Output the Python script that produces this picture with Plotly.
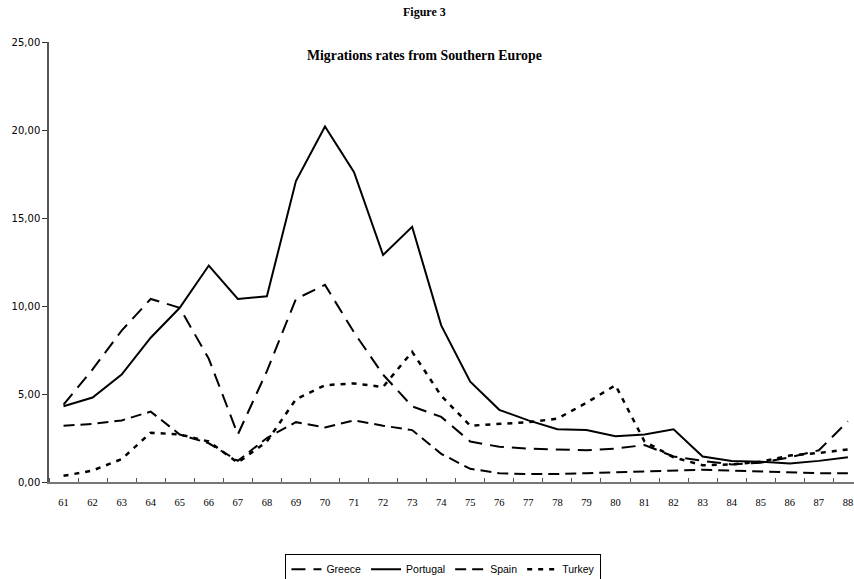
import plotly.graph_objects as go

years = list(range(61, 89))
year_labels = [str(y) for y in years]

greece = [4.4, 6.4, 8.6, 10.4, 9.9, 7.0, 2.7, 6.3, 10.4, 11.2, 8.5, 6.1, 4.3, 3.7, 2.3,
          2.0, 1.9, 1.85, 1.8, 1.9, 2.1, 1.45, 1.2, 1.0, 1.1, 1.4, 1.8, 3.45]
portugal = [4.3, 4.8, 6.1, 8.2, 9.9, 12.3, 10.4, 10.55, 17.1, 20.2, 17.6, 12.9, 14.5, 8.9, 5.7,
            4.1, 3.5, 3.0, 2.95, 2.6, 2.7, 3.0, 1.45, 1.2, 1.15, 1.05, 1.2, 1.4]
spain = [3.2, 3.3, 3.5, 4.0, 2.7, 2.2, 1.2, 2.5, 3.4, 3.1, 3.5, 3.2, 2.95, 1.6, 0.75,
         0.5, 0.45, 0.45, 0.5, 0.55, 0.6, 0.68, 0.7, 0.65, 0.6, 0.55, 0.5, 0.5]
turkey = [0.35, 0.65, 1.3, 2.8, 2.7, 2.3, 1.1, 2.3, 4.7, 5.5, 5.6, 5.4, 7.4, 4.9, 3.2,
          3.3, 3.4, 3.6, 4.5, 5.5, 2.3, 1.4, 0.95, 1.0, 1.15, 1.5, 1.65, 1.85]

y_ticks = [0, 5, 10, 15, 20, 25]
y_tick_labels = ["0,00", "5,00", "10,00", "15,00", "20,00", "25,00"]

fig = go.Figure()
series = [
    ("Greece", greece, dict(color="black", width=2, dash="14px,8px")),
    ("Portugal", portugal, dict(color="black", width=2, dash="solid")),
    ("Spain", spain, dict(color="black", width=2, dash="11px,6px")),
    ("Turkey", turkey, dict(color="black", width=2.5, dash="5px,6px")),
]
for name, vals, line in series:
    fig.add_trace(go.Scatter(x=years, y=vals, mode="lines", name=name, line=line))

fig.update_layout(
    width=854, height=579,
    margin=dict(l=49, r=0, t=42, b=97, autoexpand=False),
    paper_bgcolor="white", plot_bgcolor="white",
    showlegend=True,
    legend=dict(orientation="h", x=0.49, xanchor="center", y=-0.163, yanchor="top",
                bordercolor="black", borderwidth=1, bgcolor="white",
                font=dict(family="Liberation Sans", size=10.5, color="black"),
                itemwidth=30, tracegroupgap=0),
    font=dict(family="Liberation Serif", color="black"),
    annotations=[
        dict(text="<b>Figure 3</b>", x=0.466, y=1.0 + (42 - 12) / 440, xref="paper", yref="paper",
             showarrow=False, yanchor="middle", font=dict(family="Liberation Serif", size=12)),
        dict(text="<b>Migrations rates from Southern Europe</b>", x=0.466, y=1.0 - (55 - 42) / 440,
             xref="paper", yref="paper", showarrow=False, yanchor="middle",
             font=dict(family="Liberation Serif", size=13.8)),
    ],
)

fig.update_xaxes(
    range=[60.5, 88.21], tickvals=years, ticktext=year_labels,
    ticks="", showgrid=False, zeroline=False, automargin=False,
    showline=True, linecolor="#777777", linewidth=1.5,
    tickfont=dict(family="Liberation Serif", size=10.5, color="black"),
    minor=dict(tick0=60.5, dtick=1, ticks="inside", ticklen=4, tickcolor="#555555"),
    ticklabelstandoff=10,
)
fig.update_yaxes(
    range=[0, 25], tickvals=y_ticks, ticktext=y_tick_labels,
    ticks="outside", ticklen=5, tickcolor="#333333",
    showgrid=False, zeroline=False, automargin=False,
    showline=True, linecolor="#555555", linewidth=1.5,
    tickfont=dict(family="DejaVu Sans", size=10, color="black"),
)

fig.write_html("out.html", config={"displayModeBar": False},
               post_script="document.body.style.margin='0px';")
